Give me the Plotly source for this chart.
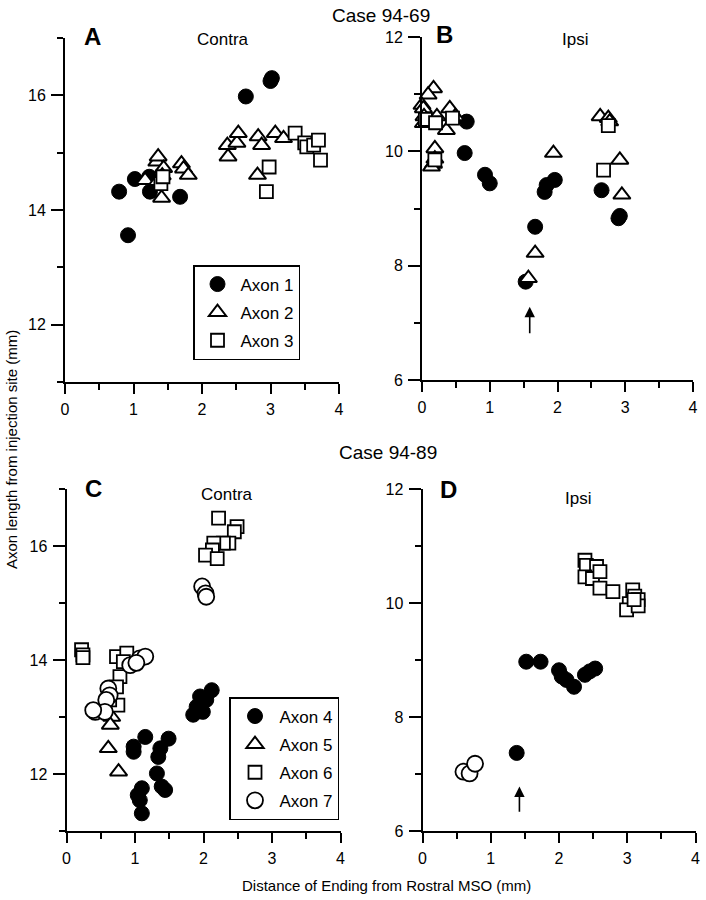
import plotly.graph_objects as go

# ---------------- data ----------------
# Case 94-69, Contra (panel A)
a_axon1_x = [0.79, 0.92, 1.02, 1.23, 1.24, 1.68, 2.64, 3.00, 3.02]
a_axon1_y = [14.32, 13.56, 14.54, 14.58, 14.32, 14.23, 15.98, 16.25, 16.30]
a_axon2_x = [1.17, 1.34, 1.36, 1.44, 1.35, 1.42, 1.41, 1.70, 1.73, 1.80, 2.37, 2.38,
             2.51, 2.53, 2.81, 2.82, 2.87, 3.07, 3.19]
a_axon2_y = [14.52, 14.84, 14.93, 14.73, 14.50, 14.60, 14.21, 14.81, 14.72, 14.61, 15.13, 14.93,
             15.17, 15.34, 14.61, 15.28, 15.13, 15.34, 15.25]
a_axon3_x = [1.40, 1.43, 2.94, 2.98, 3.36, 3.50, 3.53, 3.63, 3.70, 3.73]
a_axon3_y = [14.46, 14.58, 14.32, 14.75, 15.34, 15.17, 15.10, 15.13, 15.22, 14.87]

# Case 94-69, Ipsi (panel B)
b_axon1_x = [0.66, 0.63, 0.93, 1.00, 1.67, 1.53, 1.81, 1.84, 1.96, 2.65, 2.90, 2.92]
b_axon1_y = [10.52, 9.97, 9.59, 9.44, 8.68, 7.72, 9.29, 9.41, 9.50, 9.32, 8.83, 8.87]
b_axon2_x = [0.17, 0.09, 0.00, 0.02, 0.03, 0.02, 0.22, 0.41, 0.49, 0.36, 0.19, 0.19,
             0.17, 0.14, 1.94, 1.67, 1.57, 2.63, 2.75, 2.77, 2.92, 2.95]
b_axon2_y = [11.10, 10.99, 10.81, 10.75, 10.61, 10.49, 10.61, 10.75, 10.61, 10.37, 10.05, 9.87,
             9.78, 9.73, 9.97, 8.22, 7.78, 10.61, 10.58, 10.52, 9.85, 9.24]
b_axon3_x = [0.05, 0.20, 0.45, 0.19, 2.68, 2.75]
b_axon3_y = [10.56, 10.50, 10.58, 9.85, 9.67, 10.45]

# Case 94-89, Contra (panel C)
c_axon4_x = [2.12, 1.95, 2.04, 1.90, 1.85, 1.99, 1.15, 0.98, 0.98, 1.49, 1.37, 1.34,
             1.32, 1.39, 1.44, 1.10, 1.04, 1.07, 1.10]
c_axon4_y = [13.47, 13.36, 13.30, 13.18, 13.04, 13.09, 12.65, 12.48, 12.39, 12.62, 12.45, 12.30,
             12.01, 11.78, 11.72, 11.75, 11.63, 11.54, 11.31]
c_axon5_x = [0.66, 0.64, 0.61, 0.76]
c_axon5_y = [13.00, 12.86, 12.45, 12.04]
c_axon6_x = [2.22, 2.49, 2.45, 2.37, 2.29, 2.15, 2.13, 2.03, 2.20, 0.22, 0.24, 0.24,
             0.73, 0.88, 0.83, 0.78, 0.73, 0.75, 0.63]
c_axon6_y = [16.49, 16.34, 16.25, 16.05, 16.05, 16.05, 15.93, 15.84, 15.78, 14.18, 14.09, 14.04,
             14.06, 14.12, 13.97, 13.71, 13.53, 13.21, 13.30]
c_axon7_x = [1.98, 2.03, 2.04, 1.07, 1.15, 0.93, 1.02, 0.61, 0.63, 0.58, 0.42, 0.56, 0.39]
c_axon7_y = [15.29, 15.17, 15.11, 14.03, 14.06, 13.91, 13.95, 13.50, 13.38, 13.30, 13.09, 13.09, 13.12]

# Case 94-89, Ipsi (panel D)
d_axon4_x = [1.52, 1.73, 2.00, 2.04, 2.11, 2.22, 2.38, 2.45, 2.53, 1.38]
d_axon4_y = [8.97, 8.97, 8.82, 8.71, 8.65, 8.53, 8.74, 8.80, 8.85, 7.37]
d_axon6_x = [2.38, 2.40, 2.55, 2.38, 2.49, 2.60, 2.60, 2.79, 3.08, 3.11, 3.03, 2.99, 3.16, 3.16, 3.10]
d_axon6_y = [10.75, 10.66, 10.64, 10.46, 10.43, 10.55, 10.26, 10.20, 10.23, 10.12, 9.99, 9.88,
             10.06, 9.95, 10.06]
d_axon7_x = [0.60, 0.69, 0.77]
d_axon7_y = [7.04, 7.01, 7.18]

# arrows (x, tip y, tail y)
arrow_b = (1.59, 7.28, 6.79)
arrow_d = (1.42, 6.78, 6.31)

x_ticks = [0, 1, 2, 3, 4]
contra_range = [11, 17]
ipsi_range = [6, 12]

# ---------------- styling ----------------
FONT = "Arial, Liberation Sans, Helvetica, sans-serif"
W, H = 706, 900

filled_circle = dict(symbol="circle", size=15, color="black", line=dict(color="black", width=1))
open_tri = dict(symbol="triangle-up", size=15, color="white", line=dict(color="black", width=2))
open_sq = dict(symbol="square", size=13, color="white", line=dict(color="black", width=1.8))
open_circle = dict(symbol="circle", size=16, color="white", line=dict(color="black", width=1.8))

fig = go.Figure()

def add(x, y, name, marker, xa, ya, legend=None, show=False):
    kw = dict(x=x, y=y, mode="markers", name=name, marker=marker, xaxis=xa, yaxis=ya,
              showlegend=show, legendgroup=name + xa, cliponaxis=False)
    if legend:
        kw["legend"] = legend
    fig.add_trace(go.Scatter(**kw))

add(a_axon1_x, a_axon1_y, "Axon 1", filled_circle, "x", "y", "legend", True)
add(a_axon2_x, a_axon2_y, "Axon 2", open_tri, "x", "y", "legend", True)
add(a_axon3_x, a_axon3_y, "Axon 3", open_sq, "x", "y", "legend", True)

add(b_axon1_x, b_axon1_y, "Axon 1", filled_circle, "x2", "y2")
add(b_axon2_x, b_axon2_y, "Axon 2", open_tri, "x2", "y2")
add(b_axon3_x, b_axon3_y, "Axon 3", open_sq, "x2", "y2")

add(c_axon4_x, c_axon4_y, "Axon 4", filled_circle, "x3", "y3", "legend2", True)
add(c_axon5_x, c_axon5_y, "Axon 5", open_tri, "x3", "y3", "legend2", True)
add(c_axon6_x, c_axon6_y, "Axon 6", open_sq, "x3", "y3", "legend2", True)
add(c_axon7_x, c_axon7_y, "Axon 7", open_circle, "x3", "y3", "legend2", True)

add(d_axon4_x, d_axon4_y, "Axon 4", filled_circle, "x4", "y4")
add(d_axon6_x, d_axon6_y, "Axon 6", open_sq, "x4", "y4")
add(d_axon7_x, d_axon7_y, "Axon 7", open_circle, "x4", "y4")

def px_x(p):
    return p / W

def px_y(p):
    return 1 - p / H

def xaxis(dom, anchor):
    return dict(domain=[px_x(dom[0]), px_x(dom[1])], anchor=anchor, range=[x_ticks[0], x_ticks[-1]],
                tickmode="array", tickvals=x_ticks, ticktext=[str(t) for t in x_ticks],
                ticks="outside", ticklen=10, tickwidth=1.6, tickcolor="black",
                minor=dict(ticks="outside", ticklen=6, tickwidth=1.6, tickcolor="black", dtick=0.5, tick0=0),
                showline=True, linecolor="black", linewidth=2, showgrid=False, zeroline=False,
                ticklabelstandoff=2,
                tickfont=dict(family=FONT, size=16, color="black"), automargin=False, fixedrange=True)

def yaxis(dom, anchor, rng):
    return dict(domain=[px_y(dom[1]), px_y(dom[0])], anchor=anchor, range=rng,
                tickmode="linear", tick0=0, dtick=2,
                ticks="outside", ticklen=12, tickwidth=1.6, tickcolor="black",
                minor=dict(ticks="outside", ticklen=6, tickwidth=1.6, tickcolor="black", dtick=1, tick0=0),
                showline=True, linecolor="black", linewidth=2, showgrid=False, zeroline=False,
                ticklabelstandoff=2,
                tickfont=dict(family=FONT, size=16, color="black"), automargin=False, fixedrange=True)

annotations = []

def text(x, y, s, size=17, bold=False):
    annotations.append(dict(x=px_x(x), y=px_y(y), xref="paper", yref="paper", text=("<b>%s</b>" % s) if bold else s,
                            showarrow=False, xanchor="center", yanchor="middle",
                            font=dict(family=FONT, size=size, color="black")))

text(381, 15, "Case 94-69", 19)
text(388, 453, "Case 94-89", 19)
text(92, 36, "A", 24, True)
text(223, 40, "Contra", 17)
text(444, 34, "B", 24, True)
text(575, 40, "Ipsi", 17)
text(93, 488, "C", 24, True)
text(227, 494, "Contra", 17)
text(449, 489, "D", 24, True)
text(578, 498, "Ipsi", 17)
text(386, 885, "Distance of Ending from Rostral MSO (mm)", 15)
annotations.append(dict(x=px_x(11), y=px_y(450), xref="paper", yref="paper",
                        text="Axon length from injection site (mm)", textangle=-90, showarrow=False,
                        xanchor="center", yanchor="middle", font=dict(family=FONT, size=15, color="black")))

for (ax_x, tip, tail), xr, yr in [(arrow_b, "x2", "y2"), (arrow_d, "x4", "y4")]:
    annotations.append(dict(x=ax_x, y=tip, ax=ax_x, ay=tail, xref=xr, yref=yr, axref=xr, ayref=yr,
                            text="", showarrow=True, arrowhead=2, arrowsize=1.3, arrowwidth=1.6,
                            arrowcolor="black"))

legend_style = dict(bgcolor="white", bordercolor="black", borderwidth=1.5, xanchor="left", yanchor="top",
                    font=dict(family=FONT, size=17, color="black"), tracegroupgap=3,
                    itemclick=False, itemdoubleclick=False)

fig.update_layout(
    width=W, height=H, template="none",
    margin=dict(l=0, r=0, t=0, b=0, autoexpand=False),
    paper_bgcolor="white", plot_bgcolor="white",
    font=dict(family=FONT, color="black"),
    xaxis=xaxis((65, 339), "y"), yaxis=yaxis((38, 382), "x", contra_range),
    xaxis2=xaxis((422, 693), "y2"), yaxis2=yaxis((37, 380), "x2", ipsi_range),
    xaxis3=xaxis((66.5, 340.5), "y3"), yaxis3=yaxis((489, 831), "x3", contra_range),
    xaxis4=xaxis((422.5, 695.5), "y4"), yaxis4=yaxis((489, 831), "x4", ipsi_range),
    legend=dict(x=px_x(193), y=px_y(265), itemwidth=36, **legend_style),
    legend2=dict(x=px_x(229), y=px_y(697), itemwidth=39, **legend_style),
    annotations=annotations,
)

fig.write_html("out.html", config={"displayModeBar": False},
               post_script="document.body.style.margin='0';document.body.style.overflow='hidden';")
